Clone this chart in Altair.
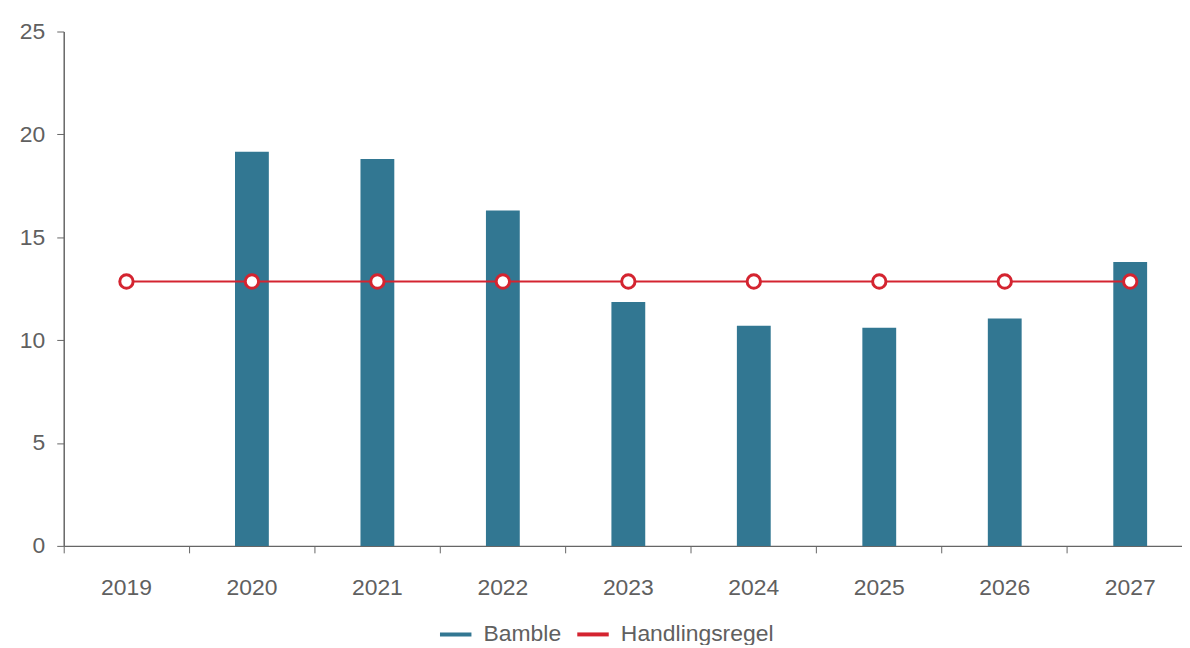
import altair as alt
import pandas as pd

years = ["2019", "2020", "2021", "2022", "2023", "2024", "2025", "2026", "2027"]
bamble = [None, 19.15, 18.8, 16.3, 11.85, 10.7, 10.6, 11.05, 13.8]
handlingsregel = [12.85, 12.85, 12.85, 12.85, 12.85, 12.85, 12.85, 12.85, 12.85]
y_ticks = [0, 5, 10, 15, 20, 25]

series_names = ["Bamble", "Handlingsregel"]
series_colors = ["#327792", "#d42430"]

df = pd.DataFrame({"year": years, "Bamble": bamble, "Handlingsregel": handlingsregel})

FONT = "Liberation Sans"
GREY = "#606060"

x_enc = alt.X(
    "year:O",
    sort=years,
    title=None,
    scale=alt.Scale(paddingInner=0, paddingOuter=0),
    axis=alt.Axis(
        labelAngle=0,
        bandPosition=0,
        labelFontSize=23,
        labelColor=GREY,
        labelFont=FONT,
        labelPadding=24,
        tickSize=7,
        tickColor="#666",
        domainColor="#666",
        domainWidth=1.5,
        grid=False,
    ),
)

y_scale = alt.Scale(domain=[0, 25], nice=False)
y_axis = alt.Axis(
    values=y_ticks,
    labelFontSize=23,
    labelColor=GREY,
    labelFont=FONT,
    labelPadding=12,
    tickSize=7,
    tickColor="#666",
    domainColor="#666",
    domainWidth=1.5,
    grid=False,
)

color_scale = alt.Scale(domain=series_names, range=series_colors)
legend = alt.Legend(
    title=None,
    orient="none",
    legendX=376,
    legendY=588,
    direction="horizontal",
    symbolType="stroke",
    symbolSize=1000,
    symbolStrokeWidth=4,
    labelFontSize=23,
    labelColor=GREY,
    labelFont=FONT,
    labelOffset=10,
    columnPadding=8,
)

bars = alt.Chart(df).transform_calculate(series="'Bamble'").mark_bar(width=34).encode(
    x=x_enc,
    y=alt.Y("Bamble:Q", scale=y_scale, axis=y_axis, title=None),
    color=alt.Color("series:N", scale=color_scale, legend=legend),
)

line = alt.Chart(df).transform_calculate(series="'Handlingsregel'").mark_line().encode(
    x=x_enc,
    y=alt.Y("Handlingsregel:Q", scale=y_scale, axis=y_axis, title=None),
    color=alt.Color("series:N", scale=color_scale, legend=legend),
)

points = alt.Chart(df).mark_point(
    shape="circle", filled=False, fill="white", size=180, strokeWidth=3, opacity=1
).encode(
    x=x_enc,
    y=alt.Y("Handlingsregel:Q", scale=y_scale, axis=y_axis, title=None),
    stroke=alt.value(series_colors[1]),
)

chart = (
    alt.layer(bars, line, points)
    .properties(
        width=1135,
        height=517,
        autosize=alt.AutoSizeParams(type="none"),
        padding={"left": 56, "top": 22, "right": -11, "bottom": 98},
        view=alt.ViewBackground(strokeWidth=0, strokeOpacity=0),
    )
    .configure_view(strokeWidth=0, strokeOpacity=0)
    .configure_axis(grid=False)
    .configure_line(strokeWidth=2)
    .configure(background="white")
)

chart.save("out.html", embed_options={"renderer": "svg", "actions": False})
